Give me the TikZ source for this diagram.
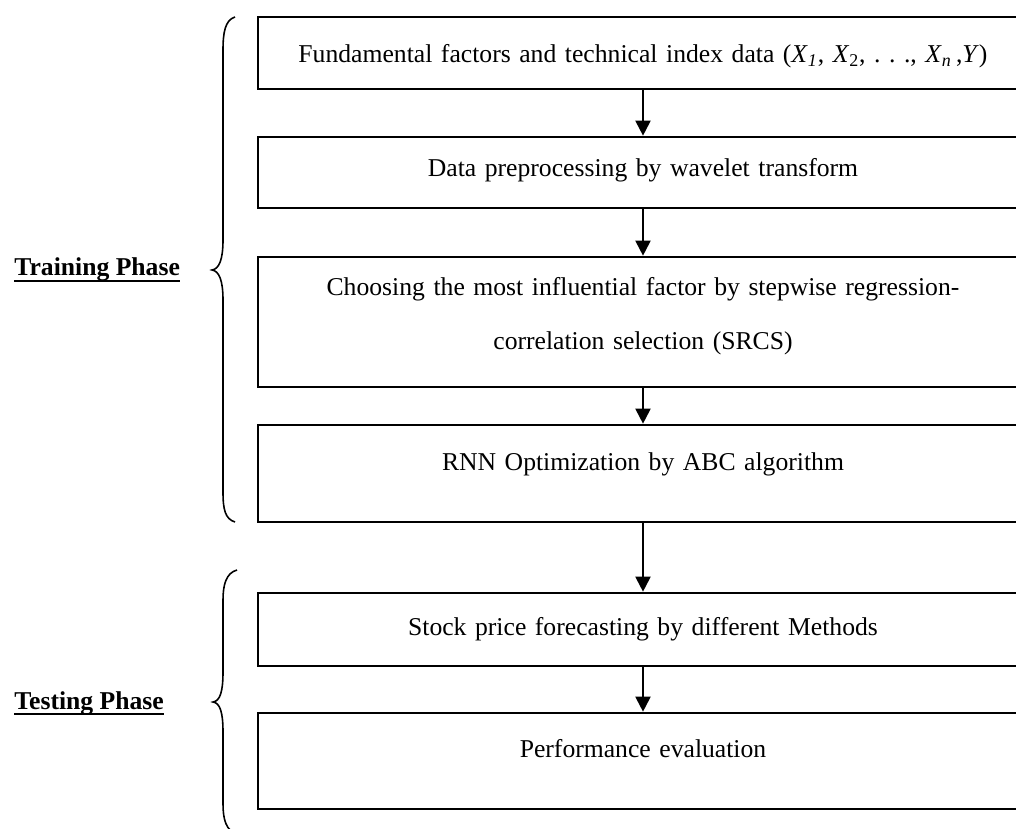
\documentclass[tikz,border=0pt]{standalone}
\usepackage{fontspec}
\setmainfont{Liberation Serif}
\usetikzlibrary{arrows.meta}
\frenchspacing

\begin{document}
\begin{tikzpicture}[
    every node/.style={font=\fontsize{14.6}{30.6}\selectfont},
    box/.style={draw, line width=1.5pt, anchor=base, inner sep=0pt,
                text width=15.4cm, align=center},
    flow/.style={line width=1.1pt, -{Triangle[length=0.3cm, width=0.3cm]}},
    brace/.style={line width=0.9pt},
    uline/.style={line width=1.3pt}
  ]
  \useasboundingbox (0,0) rectangle (20.32,16.56);

  % Training boxes
  \node[box, text height=0.92cm, text depth=0.52cm] (data) at (12.86,15.30)
    {Fundamental factors and technical index data (\textit{X}\textsubscript{\textit{1}}, \textit{X}\textsubscript{2}, . . ., \textit{X}\textsubscript{\textit{n}}\,,\textit{Y})};
  \node[box, text height=0.80cm, text depth=0.62cm] (wave) at (12.86,13.02)
    {Data preprocessing by wavelet transform};
  \node[box, text height=0.78cm, text depth=1.82cm] (srcs) at (12.86,10.64)
    {Choosing the most influential factor by stepwise regression-\\correlation selection (SRCS)};
  \node[box, text height=0.90cm, text depth=1.04cm] (rnn) at (12.86,7.16)
    {RNN Optimization by ABC algorithm};

  % Testing boxes
  \node[box, text height=0.84cm, text depth=0.62cm] (fcst) at (12.86,3.86)
    {Stock price forecasting by different Methods};
  \node[box, text height=0.88cm, text depth=1.04cm] (eval) at (12.86,1.42)
    {Performance evaluation};

  % Arrows
  \draw[flow] (data) -- (wave);
  \draw[flow] (wave) -- (srcs);
  \draw[flow] (srcs) -- (rnn);
  \draw[flow] (rnn) -- (fcst);
  \draw[flow] (fcst) -- (eval);

  % Phase labels
  \node[anchor=base west, inner sep=0pt] (train) at (0.28,11.04)
    {\textbf{Training Phase}};
  \node[anchor=base west, inner sep=0pt] (test) at (0.28,2.38)
    {\textbf{Testing Phase}};
  \draw[uline] ([yshift=-0.1cm]train.base west) -- ([yshift=-0.1cm]train.base east);
  \draw[uline] ([yshift=-0.1cm]test.base west) -- ([yshift=-0.1cm]test.base east);

  % Braces
  \draw[brace] (4.70,16.22) .. controls (4.50,16.16) and (4.46,15.90) .. (4.46,15.56)
    -- (4.46,11.76) .. controls (4.46,11.36) and (4.38,11.18) .. (4.24,11.16)
    .. controls (4.38,11.14) and (4.46,10.96) .. (4.46,10.56)
    -- (4.46,6.72) .. controls (4.46,6.38) and (4.50,6.18) .. (4.70,6.12);
  \draw[brace] (4.74,5.16) .. controls (4.52,5.10) and (4.46,4.86) .. (4.46,4.56)
    -- (4.46,3.12) .. controls (4.46,2.72) and (4.40,2.54) .. (4.26,2.52)
    .. controls (4.40,2.50) and (4.46,2.32) .. (4.46,1.92)
    -- (4.46,0.48) .. controls (4.46,0.18) and (4.52,-0.06) .. (4.74,-0.12);
\end{tikzpicture}
\end{document}
